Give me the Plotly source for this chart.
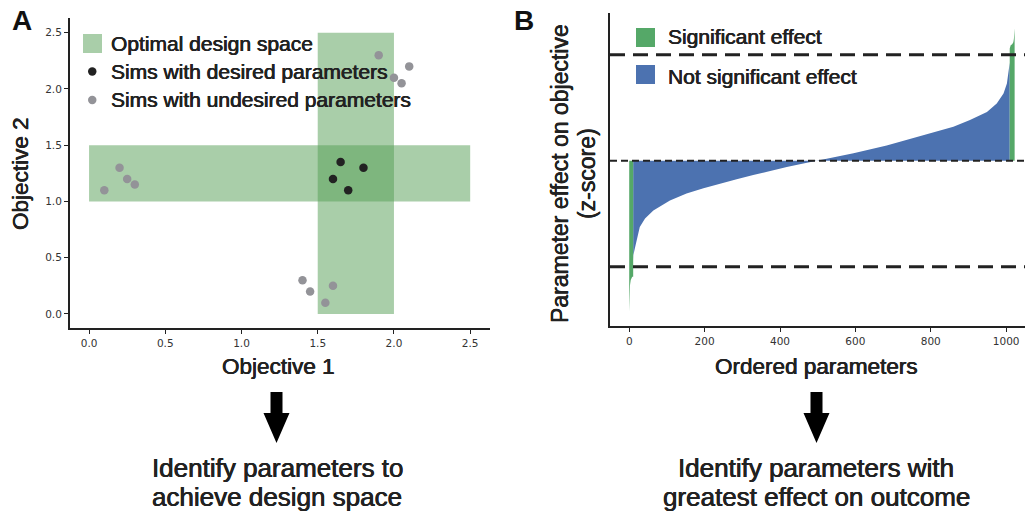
import plotly.graph_objects as go

W, H = 1026, 514

# ---------------- Panel A data ----------------
design_x0 = [0.0, 1.5]
design_x1 = [2.5, 2.0]
design_y0 = [1.0, 0.0]
design_y1 = [1.5, 2.5]

desired_x = [1.6, 1.65, 1.7, 1.8]
desired_y = [1.2, 1.35, 1.1, 1.3]

undesired_x = [0.1, 0.2, 0.25, 0.3, 1.4, 1.45, 1.55, 1.6, 1.9, 2.0, 2.05, 2.1]
undesired_y = [1.1, 1.3, 1.2, 1.15, 0.3, 0.2, 0.1, 0.25, 2.3, 2.1, 2.05, 2.2]

a_ticks = [0.0, 0.5, 1.0, 1.5, 2.0, 2.5]
a_ticklabels = ["0.0", "0.5", "1.0", "1.5", "2.0", "2.5"]

legend_a_labels = ["Optimal design space", "Sims with desired parameters",
                   "Sims with undesired parameters"]

# ---------------- Panel B data ----------------
sig_low_rank = [0, 0.5, 2, 4, 6, 8, 10.5]
sig_low_z = [-2.85, -2.55, -2.35, -2.25, -2.21, -2.19, -2.19]

ns_rank = [10.5, 11, 15, 20, 28, 42, 64, 108, 152, 197, 241, 285, 329, 374,
           418, 462, 497, 515, 595, 683, 772, 860, 904, 949, 975, 993, 1002,
           1008, 1009.5]
ns_z = [-1.88, -1.78, -1.65, -1.47, -1.25, -1.09, -0.94, -0.75, -0.62, -0.52,
        -0.43, -0.35, -0.27, -0.19, -0.12, -0.05, 0.0, 0.02, 0.14, 0.29, 0.46,
        0.64, 0.77, 0.92, 1.08, 1.27, 1.46, 1.71, 1.85]

sig_high_rank = [1009.5, 1012, 1016, 1019, 1020.5, 1021.5, 1022.5]
sig_high_z = [2.12, 2.18, 2.2, 2.24, 2.3, 2.48, 2.5]

threshold = 2.0
b_ticks = [0, 200, 400, 600, 800, 1000]
legend_b_labels = ["Significant effect", "Not significant effect"]

# ---------------- styles ----------------
FONT = "Liberation Sans, Arial, Helvetica, sans-serif"
TICKFONT = dict(family="DejaVu Sans", size=10.5, color="#333333")
DARK = "#222222"
LIGHT_GREEN = "rgba(83,158,83,0.5)"
GREEN = "#55a868"
BLUE = "#4c72b0"
GRAY = "#939398"
EMBOLDEN = "0.35px 0 0 #222222, -0.35px 0 0 #222222"


def fx(px):
    return px / W


def fy(py):
    return 1 - py / H


fig = go.Figure()

# Panel A traces
fig.add_trace(go.Scatter(x=undesired_x, y=undesired_y, mode="markers",
                         marker=dict(size=8.5, color=GRAY), xaxis="x", yaxis="y",
                         showlegend=False, hoverinfo="skip"))
fig.add_trace(go.Scatter(x=desired_x, y=desired_y, mode="markers",
                         marker=dict(size=8.5, color=DARK), xaxis="x", yaxis="y",
                         showlegend=False, hoverinfo="skip"))

# Panel B traces
fig.add_trace(go.Scatter(x=ns_rank, y=ns_z, mode="lines", fill="tozeroy",
                         fillcolor=BLUE, line=dict(width=0, color=BLUE),
                         xaxis="x2", yaxis="y2", showlegend=False, hoverinfo="skip"))
fig.add_trace(go.Scatter(x=sig_low_rank, y=sig_low_z, mode="lines", fill="tozeroy",
                         fillcolor=GREEN, line=dict(width=0, color=GREEN),
                         xaxis="x2", yaxis="y2", showlegend=False, hoverinfo="skip"))
fig.add_trace(go.Scatter(x=sig_high_rank, y=sig_high_z, mode="lines", fill="tozeroy",
                         fillcolor=GREEN, line=dict(width=0, color=GREEN),
                         xaxis="x2", yaxis="y2", showlegend=False, hoverinfo="skip"))

shapes = []
# design space rectangles
for x0, x1, y0, y1 in zip(design_x0, design_x1, design_y0, design_y1):
    shapes.append(dict(type="rect", xref="x", yref="y", x0=x0, x1=x1, y0=y0, y1=y1,
                       fillcolor=LIGHT_GREEN, line=dict(width=0), layer="below"))

# threshold / zero dashed lines
for yv, w, dash in [(threshold, 3, "15px,8px"), (-threshold, 3, "15px,8px"),
                    (0.0, 2.2, "7px,4px")]:
    shapes.append(dict(type="line", xref="x2 domain", yref="y2", x0=0, x1=1,
                       y0=yv, y1=yv, line=dict(color=DARK, width=w, dash=dash),
                       layer="above"))

# Legend A keys
shapes.append(dict(type="rect", xref="paper", yref="paper", x0=fx(83), x1=fx(102),
                   y0=fy(53), y1=fy(34), fillcolor=LIGHT_GREEN, line=dict(width=0)))
for cy, col in [(71.5, DARK), (100, GRAY)]:
    shapes.append(dict(type="circle", xref="paper", yref="paper", x0=fx(88), x1=fx(96.5),
                       y0=fy(cy + 4.2), y1=fy(cy - 4.2), fillcolor=col, line=dict(width=0)))
# Legend B keys
shapes.append(dict(type="rect", xref="paper", yref="paper", x0=fx(636), x1=fx(655),
                   y0=fy(47), y1=fy(28), fillcolor=GREEN, line=dict(width=0)))
shapes.append(dict(type="rect", xref="paper", yref="paper", x0=fx(636), x1=fx(655),
                   y0=fy(84), y1=fy(65), fillcolor=BLUE, line=dict(width=0)))


# arrows
def arrow_path(cx):
    pts = [(cx - 6, 392), (cx + 6, 392), (cx + 6, 413), (cx + 13, 413), (cx, 443),
           (cx - 13, 413), (cx - 6, 413)]
    return "M " + " L ".join(f"{fx(a):.5f},{fy(b):.5f}" for a, b in pts) + " Z"


for cx in [276.5, 816.5]:
    shapes.append(dict(type="path", xref="paper", yref="paper", path=arrow_path(cx),
                       fillcolor="#000000", line=dict(width=0)))

annotations = []


def ann(text, x, y, size, xanchor="center", yanchor="middle", angle=0, bold=False,
        color=DARK):
    font = dict(family=FONT, size=size, color=color)
    if not bold:
        font["shadow"] = EMBOLDEN
    annotations.append(dict(text=(f"<b>{text}</b>" if bold else text), xref="paper",
                            yref="paper", x=fx(x), y=fy(y), xanchor=xanchor,
                            yanchor=yanchor, textangle=angle, showarrow=False,
                            font=font))


ann("A", 10, 21, 28, xanchor="left", bold=True, color="#111111")
ann("B", 512, 21, 28, xanchor="left", bold=True, color="#111111")
for lab, cy in zip(legend_a_labels, [43, 72, 100]):
    ann(lab, 109, cy, 21, xanchor="left")
for lab, cy in zip(legend_b_labels, [37, 76]):
    ann(lab, 666, cy, 21, xanchor="left")
ann("Objective 1", 278, 366, 22.5)
ann("Objective 2", 20, 174, 22.5, angle=-90)
ann("Ordered parameters", 816, 366, 22.5)
ann("Parameter effect on objective", 560, 174, 23, angle=-90)
ann("(z-score)", 587, 174, 23, angle=-90)
ann("Identify parameters to", 277, 468, 26)
ann("achieve design space", 277, 497, 26)
ann("Identify parameters with", 816, 468, 26)
ann("greatest effect on outcome", 816, 497, 26)

axis_common = dict(showline=True, linecolor=DARK, linewidth=2, showgrid=False,
                   zeroline=False, ticks="outside", ticklen=4, tickwidth=1.3,
                   tickcolor=DARK, tickfont=TICKFONT, mirror=False)

fig.update_layout(
    width=W, height=H, autosize=False,
    margin=dict(l=0, r=0, t=0, b=0),
    paper_bgcolor="white", plot_bgcolor="white",
    showlegend=False,
    xaxis=dict(domain=[fx(70), fx(490)], range=[-0.125, 2.63], tickvals=a_ticks,
               ticktext=a_ticklabels, anchor="y", **axis_common),
    yaxis=dict(domain=[fy(328), fy(18)], range=[-0.125, 2.63], tickvals=a_ticks,
               ticktext=a_ticklabels, anchor="x", **axis_common),
    xaxis2=dict(domain=[fx(610), fx(1025)], range=[-51, 1050], tickvals=b_ticks,
                anchor="y2", **axis_common),
    yaxis2=dict(domain=[fy(326), fy(13)], range=[-3.12, 2.79], anchor="x2",
                showline=True, linecolor=DARK, linewidth=2, showgrid=False,
                zeroline=False, showticklabels=False, ticks=""),
    shapes=shapes,
    annotations=annotations,
)

fig.write_html("out.html", config={"displayModeBar": False},
               post_script="document.body.style.margin='0px';")
